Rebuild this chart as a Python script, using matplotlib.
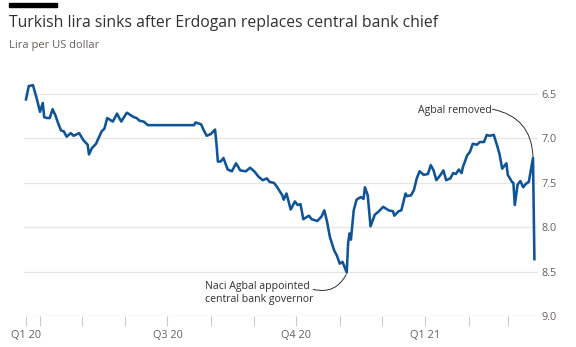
import pandas as pd
import matplotlib.pyplot as plt
import matplotlib.dates as mdates
from matplotlib.ticker import FixedLocator, NullFormatter

plt.rcParams['font.family'] = ['Open Sans', 'DejaVu Sans']

# Lira per US dollar
dates = [
    '2020-03-22', '2020-03-24', '2020-03-27', '2020-03-30', '2020-04-01', '2020-04-03',
    '2020-04-04', '2020-04-06', '2020-04-08', '2020-04-10', '2020-04-12', '2020-04-14',
    '2020-04-16', '2020-04-18', '2020-04-20', '2020-04-23', '2020-04-25', '2020-04-29',
    '2020-05-02', '2020-05-05', '2020-05-06', '2020-05-08', '2020-05-11', '2020-05-15',
    '2020-05-17', '2020-05-19', '2020-05-21', '2020-05-23', '2020-05-26', '2020-05-29',
    '2020-06-02', '2020-06-07', '2020-06-09', '2020-06-11', '2020-06-14', '2020-06-17',
    '2020-06-28', '2020-07-10', '2020-07-20', '2020-07-21', '2020-07-25', '2020-07-27',
    '2020-07-29', '2020-08-01', '2020-08-04', '2020-08-05', '2020-08-06', '2020-08-08',
    '2020-08-10', '2020-08-13', '2020-08-16', '2020-08-19', '2020-08-22', '2020-08-26',
    '2020-08-29', '2020-09-01', '2020-09-04', '2020-09-07', '2020-09-10', '2020-09-12',
    '2020-09-15', '2020-09-17', '2020-09-21', '2020-09-22', '2020-09-24', '2020-09-27',
    '2020-09-30', '2020-10-02', '2020-10-04', '2020-10-06', '2020-10-10', '2020-10-12',
    '2020-10-16', '2020-10-19', '2020-10-21', '2020-10-23', '2020-10-25', '2020-10-28',
    '2020-10-30', '2020-11-01', '2020-11-03', '2020-11-04', '2020-11-06', '2020-11-07',
    '2020-11-08', '2020-11-09', '2020-11-11', '2020-11-13', '2020-11-16', '2020-11-18',
    '2020-11-19', '2020-11-21', '2020-11-23', '2020-11-26', '2020-11-29', '2020-12-02',
    '2020-12-06', '2020-12-09', '2020-12-10', '2020-12-13', '2020-12-15', '2020-12-18',
    '2020-12-19', '2020-12-22', '2020-12-24', '2020-12-26', '2020-12-28', '2020-12-31',
    '2021-01-03', '2021-01-05', '2021-01-07', '2021-01-09', '2021-01-12', '2021-01-14',
    '2021-01-16', '2021-01-19', '2021-01-21', '2021-01-23', '2021-01-25', '2021-01-27',
    '2021-01-28', '2021-01-31', '2021-02-02', '2021-02-04', '2021-02-07', '2021-02-09',
    '2021-02-12', '2021-02-14', '2021-02-16', '2021-02-19', '2021-02-21', '2021-02-23',
    '2021-02-25', '2021-02-28', '2021-03-01', '2021-03-04', '2021-03-05', '2021-03-06',
    '2021-03-08', '2021-03-10', '2021-03-12', '2021-03-14', '2021-03-16', '2021-03-19',
    '2021-03-20',
]
lira = [
    6.56, 6.41, 6.40, 6.57, 6.70, 6.60,
    6.76, 6.77, 6.77, 6.67, 6.74, 6.83,
    6.91, 6.92, 6.98, 6.94, 6.97, 6.94,
    7.02, 7.07, 7.18, 7.11, 7.06, 6.92,
    6.89, 6.77, 6.79, 6.81, 6.72, 6.81,
    6.71, 6.76, 6.77, 6.80, 6.81, 6.85,
    6.85, 6.85, 6.85, 6.82, 6.84, 6.91,
    6.97, 6.95, 6.90, 7.06, 7.26, 7.26,
    7.22, 7.35, 7.37, 7.28, 7.36, 7.37,
    7.33, 7.37, 7.43, 7.47, 7.45, 7.49,
    7.50, 7.54, 7.64, 7.69, 7.62, 7.80,
    7.71, 7.75, 7.74, 7.91, 7.87, 7.91,
    7.93, 7.88, 7.81, 7.94, 8.11, 8.26,
    8.32, 8.41, 8.39, 8.43, 8.51, 8.18,
    8.07, 8.14, 7.81, 7.69, 7.66, 7.68,
    7.55, 7.64, 7.99, 7.86, 7.82, 7.77,
    7.81, 7.82, 7.87, 7.82, 7.81, 7.62,
    7.65, 7.64, 7.58, 7.45, 7.37, 7.41,
    7.40, 7.30, 7.36, 7.47, 7.41, 7.36,
    7.47, 7.45, 7.39, 7.40, 7.35, 7.39,
    7.32, 7.19, 7.15, 7.06, 7.07, 7.04,
    7.04, 6.96, 6.97, 6.96, 7.06, 7.17,
    7.34, 7.28, 7.41, 7.49, 7.50, 7.75,
    7.52, 7.48, 7.55, 7.51, 7.49, 7.22,
    8.36,
]

y_ticks = [6.5, 7.0, 7.5, 8.0, 8.5, 9.0]
q_ticks = ['2020-03-22', '2020-07-01', '2020-10-01', '2021-01-01']
q_labels = ['Q1 20', 'Q3 20', 'Q4 20', 'Q1 21']
month_ticks = ['2020-04-01', '2020-05-01', '2020-06-01', '2020-08-01', '2020-09-01',
               '2020-11-01', '2020-12-01', '2021-02-01', '2021-03-01']

BLUE = '#0f5499'
GREY_TXT = '#66605c'
GRID = '#ebe5e0'
AXIS = '#d2cac2'

df = pd.DataFrame({'date': pd.to_datetime(dates), 'lira': lira})

fig = plt.figure(figsize=(5.76, 3.47), dpi=100)
fig.patch.set_facecolor('white')
ax = fig.add_axes([0.0417, 0.0893, 0.8924, 0.678])

ax.plot(df['date'], df['lira'], color=BLUE, lw=1.85, solid_joinstyle='round', zorder=3)

ax.set_ylim(9.0, 6.35)
ax.set_xlim(pd.Timestamp('2021-01-01') - pd.Timedelta(days=286.4),
            pd.Timestamp('2021-01-01') + pd.Timedelta(days=80.6))

# grid
for v in y_ticks[:-1]:
    ax.axhline(v, color=GRID, lw=0.9, zorder=1)
ax.axhline(9.0, color=AXIS, lw=0.9, zorder=1)

for s in ax.spines.values():
    s.set_visible(False)

ax.yaxis.tick_right()
ax.set_yticks(y_ticks)
ax.set_yticklabels([f'{v:.1f}' for v in y_ticks])
ax.tick_params(axis='y', length=0, pad=2.5, labelsize=7.8, labelcolor=GREY_TXT)

ax.xaxis.set_major_locator(FixedLocator(mdates.date2num(pd.to_datetime(q_ticks))))
ax.set_xticklabels(q_labels)
ax.xaxis.set_minor_locator(FixedLocator(mdates.date2num(pd.to_datetime(month_ticks))))
ax.xaxis.set_minor_formatter(NullFormatter())
ax.tick_params(axis='x', which='both', length=7, width=0.8, color=AXIS,
               pad=3, labelsize=7.8, labelcolor=GREY_TXT)

# annotations
ax.text(pd.Timestamp('2021-02-17 12:00'), 6.68, 'Agbal removed', ha='right', va='center',
        fontsize=7.6, color='#33302e')
ax.annotate('', xy=(pd.Timestamp('2021-03-19'), 7.22),
            xytext=(pd.Timestamp('2021-02-18'), 6.67),
            arrowprops=dict(arrowstyle='-', color='#33302e', lw=0.7,
                            connectionstyle='arc3,rad=-0.4', shrinkA=0, shrinkB=1))

ax.text(pd.Timestamp('2020-07-28'), 8.74, 'Naci Agbal appointed\ncentral bank governor',
        ha='left', va='center', fontsize=7.6, color='#33302e', linespacing=1.15)
ax.annotate('', xy=(pd.Timestamp('2020-11-06'), 8.52),
            xytext=(pd.Timestamp('2020-10-13'), 8.70),
            arrowprops=dict(arrowstyle='-', color='#33302e', lw=0.7,
                            connectionstyle='arc3,rad=0.4', shrinkA=0, shrinkB=1))

# header
fig.add_artist(plt.Rectangle((9 / 576, 1 - 6.5 / 347), 48 / 576, 3.5 / 347,
                             transform=fig.transFigure, color='black'))
fig.text(9 / 576, 1 - 27 / 347, 'Turkish lira sinks after Erdogan replaces central bank chief',
         fontsize=11.3, color='#33302e', va='baseline', ha='left')
fig.text(9 / 576, 1 - 48 / 347, 'Lira per US dollar', fontsize=8, color=GREY_TXT,
         va='baseline', ha='left')

fig.savefig('out.png', dpi=100, facecolor='white')
